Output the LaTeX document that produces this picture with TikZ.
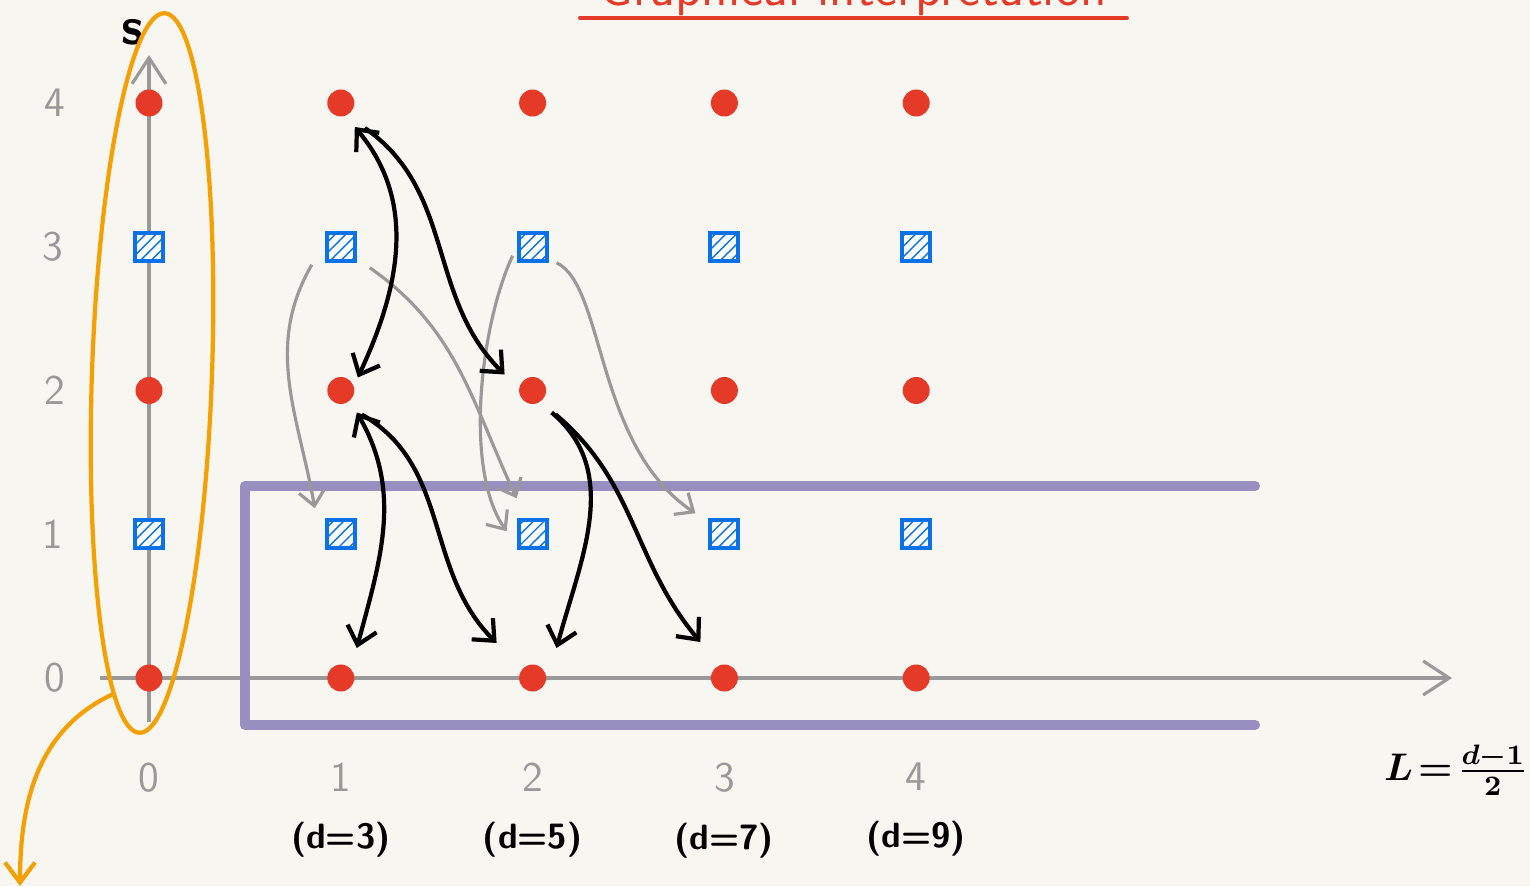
\documentclass[tikz,border=0pt]{standalone}
\usepackage{amsmath}
\usepackage{tikz}
\usetikzlibrary{positioning,arrows.meta,patterns,shapes.geometric}

\definecolor{paper}{HTML}{F8F6F1}
\definecolor{dotred}{HTML}{E63A28}
\definecolor{boxblue}{HTML}{0A72E6}
\definecolor{ringorange}{HTML}{F5A000}
\definecolor{bandpurple}{HTML}{968FC0}
\definecolor{axisgray}{HTML}{999999}

\tikzset{
  evenstate/.style={circle, fill=dotred, minimum size=0.27cm, inner sep=0pt},
  oddstate/.style={rectangle, draw=boxblue, line width=1.1pt, preaction={fill=white},
    pattern=north east lines, pattern color=boxblue, minimum size=0.28cm, inner sep=0pt},
  axisline/.style={draw=axisgray, line width=0.9pt, -{Straight Barb[length=2.6mm,width=3.4mm]}},
  tick/.style={text=axisgray, font=\fontsize{12}{14}\selectfont\sffamily, inner sep=0pt},
  dlabel/.style={font=\fontsize{10}{12}\selectfont\sffamily\bfseries, inner sep=0pt},
  twoway/.style={line width=1.2pt, {Straight Barb[length=1.7mm,width=3mm]}-{Straight Barb[length=1.7mm,width=3mm]}},
  oneway/.style={line width=1.2pt, -{Straight Barb[length=1.7mm,width=3mm]}},
  spinflip/.style={draw=axisgray, line width=0.9pt, -{Straight Barb[length=1.5mm,width=2.6mm]}},
}

\begin{document}
\begin{tikzpicture}
  \fill[paper] (0,0) rectangle (15.30,8.86);
  \useasboundingbox (0,0) rectangle (15.30,8.86);

  % Title, cut at the top edge
  \node[anchor=base, text=dotred, font=\fontsize{15}{18}\selectfont\sffamily] (title) at (8.53,8.80) {Graphical interpretation};
  \draw[dotred, line width=1.1pt, line cap=round] (5.80,8.68) -- (11.27,8.68);

  % Axes
  \coordinate (ybot) at (1.49,1.64);
  \coordinate (ytop) at (1.49,8.31);
  \coordinate (xleft) at (1.00,2.08);
  \coordinate (xright) at (14.52,2.08);
  \draw[axisline] (ybot) -- (ytop);
  \draw[axisline] (xleft) -- (xright);
  \node[font=\fontsize{15}{17}\selectfont\sffamily\bfseries] (saxis) at (1.33,8.54) {s};
  \node[font=\fontsize{11}{13}\selectfont\boldmath] (laxis) at (14.56,1.16) {$L\!=\!\frac{d-1}{2}$};

  % Band of the small s values
  \draw[bandpurple, line width=2.85pt, line cap=round, line join=round]
    (12.55,4.00) -- (2.45,4.00) -- (2.45,1.61) -- (12.55,1.61);

  % States: even s as dots, odd s as boxes
  \foreach \L in {0,...,4} {
    \foreach \s in {0,2,4}
      \node[evenstate] (v-\L-\s) at ({1.49+1.918*\L},{2.08+1.4375*\s}) {};
    \foreach \s in {1,3}
      \node[oddstate] (v-\L-\s) at ({1.49+1.918*\L},{2.08+1.4375*\s}) {};
  }

  % Tick labels
  \foreach \s in {0,...,4}
    \node[tick, left=0.69cm of v-0-\s] (s-\s) {\s};
  \foreach \L in {0,...,4}
    \node[tick, below=0.70cm of v-\L-0] (l-\L) {\L};
  \foreach \L/\d in {1/3,2/5,3/7,4/9}
    \node[dlabel, below=0.29cm of l-\L] (d-\L) {(d=\d)};

  % Moves between odd s
  \draw[spinflip] ([shift={(-0.29,-0.18)}]v-1-3.center) to[out=-120,in=100] ([shift={(-0.26,0.26)}]v-1-1.center);
  \draw[spinflip] ([shift={(0.29,-0.21)}]v-1-3.center) to[out=-35,in=115] ([shift={(-0.16,0.36)}]v-2-1.center);
  \draw[spinflip] ([shift={(-0.20,-0.09)}]v-2-3.center) to[out=-115,in=125,looseness=0.7] ([shift={(-0.26,0.03)}]v-2-1.center);
  \draw[spinflip] ([shift={(0.24,-0.16)}]v-2-3.center) .. controls (6.05,6.00) and (5.95,4.40) .. ([shift={(-0.29,0.21)}]v-3-1.center);

  % Moves between even s
  \draw[twoway] ([shift={(0.14,-0.24)}]v-1-4.center) to[out=-50,in=65] ([shift={(0.17,0.13)}]v-1-2.center);
  \draw[oneway] ([shift={(0.24,-0.25)}]v-1-4.center) to[out=-35,in=135] ([shift={(-0.28,0.16)}]v-2-2.center);
  \draw[twoway] ([shift={(0.16,-0.22)}]v-1-2.center) to[out=-60,in=75] ([shift={(0.16,0.30)}]v-1-0.center);
  \draw[oneway] ([shift={(0.21,-0.24)}]v-1-2.center) to[out=-30,in=135] ([shift={(-0.36,0.35)}]v-2-0.center);
  \draw[oneway] ([shift={(0.19,-0.22)}]v-2-2.center) to[out=-40,in=75] ([shift={(0.24,0.30)}]v-2-0.center);
  \draw[oneway] ([shift={(0.23,-0.24)}]v-2-2.center) to[out=-40,in=130] ([shift={(-0.24,0.36)}]v-3-0.center);

  % L = 0 column
  \node[draw=ringorange, line width=1.2pt, ellipse, minimum width=1.2cm, minimum height=7.2cm,
    inner sep=0pt, rotate=-2] (sector) at (1.52,5.13) {};
  \coordinate (exit) at (0.20,0.00);
  \draw[ringorange, line width=1.2pt, -{Straight Barb[length=2mm,width=3mm]}] (sector.265) to[out=205,in=90] (exit);
\end{tikzpicture}
\end{document}
